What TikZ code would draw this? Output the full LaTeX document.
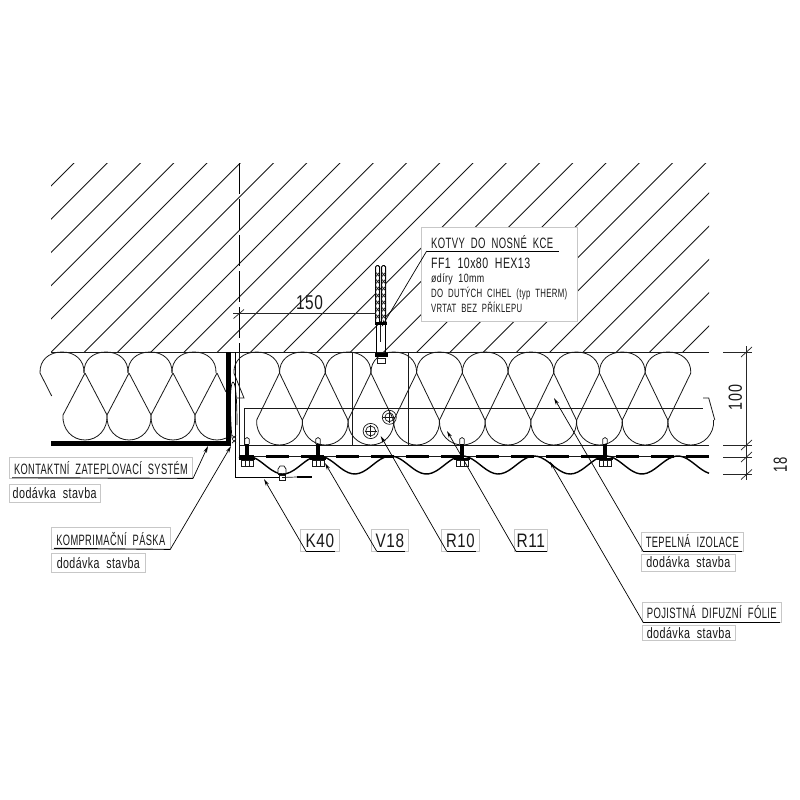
\documentclass[tikz,border=0pt]{standalone}
\usepackage{graphicx}
\usepackage{fontspec}
\setmainfont{Liberation Sans}[WordSpace=2,LetterSpace=4]
\usetikzlibrary{arrows.meta}
\newcommand{\cadfit}[3]{\raisebox{-0.36\dimexpr#2pt\relax}[0pt][0pt]{\resizebox{#1pt}{\height}{\fontsize{#2}{#2}\selectfont #3}}}
\newcommand{\toplobe}[2]{\draw[batt] (#1-#2,373) .. controls (#1-#2-0.5,360) and (#1-13,352) .. (#1,352) .. controls (#1+13,352) and (#1+#2+0.5,360) .. (#1+#2,373);}
\newcommand{\botlobe}[3]{\draw[batt] (#1-#2,#3-25) .. controls (#1-#2-1,#3-11) and (#1-13,#3) .. (#1,#3) .. controls (#1+13,#3) and (#1+#2+1,#3-11) .. (#1+#2,#3-25);}
\newcommand{\boltfix}[1]{%
  \fill[black] (#1-2.2,444) rectangle (#1+2.2,458);
  \draw[thin line] (#1-2.2,444) -- (#1-2.2,439) -- (#1,437.5) -- (#1+2.2,439) -- (#1+2.2,444);
  \fill[black] (#1-8,457.5) rectangle (#1+8,460);
  \draw[thin line,fill=white] (#1-6,460.5) rectangle (#1+6,466);
  \draw[thin line] (#1-2,460.5) -- (#1-2,466) (#1+2,460.5) -- (#1+2,466);
}
\tikzset{
  x=1pt,y=-1pt,
  thin line/.style={line width=0.7pt,draw=black!90},
  batt/.style={line width=0.8pt,draw=black!90},
  hatch/.style={line width=0.75pt,draw=black!90},
  dimline/.style={line width=0.7pt,draw=black!85},
  labelbox/.style={draw=black!22,line width=0.7pt,fill=white,inner sep=0pt,text=black!90},
  plain text/.style={inner sep=0pt,text=black!90},
  underline/.style={line width=0.9pt,draw=black},
  leader/.style={line width=0.7pt,draw=black,-{Stealth[length=7pt,width=3.6pt]}},
}
\begin{document}
\begin{tikzpicture}
\useasboundingbox (0,0) rectangle (800,800);
\fill[white] (0,0) rectangle (800,800);
% masonry hatch
\begin{scope}
  \clip (51,163) rectangle (709,352);
  \foreach \k in {0,...,24} {
    \pgfmathsetmacro{\sumv}{237+33.25*\k}
    \draw[hatch] (\sumv-400,400) -- (\sumv-100,100);
  }
\end{scope}
\draw[thin line] (51,352) -- (709,352);
% left insulation
\begin{scope}
  \clip (30,345) rectangle (226,443);
  \foreach \cc in {62,106,150,194} {\toplobe{\cc}{22}}
  \foreach \cc in {85,129,173,217} {\botlobe{\cc}{22}{440}}
  \draw[batt] (85,373) -- (63,415) (85,373) -- (107,415)
              (129,373) -- (107,415) (129,373) -- (151,415)
              (173,373) -- (151,415) (173,373) -- (195,415)
              (217,373) -- (195,415) (217,373) -- (226,392)
              (40,373) -- (51.7,396);
\end{scope}
\fill[black] (51,440.5) rectangle (231,445.5);
\fill[black] (225.7,352) rectangle (231,445.5);
% right insulation
\foreach \k in {0,...,9} {
  \pgfmathsetmacro{\cc}{256.7+45.7*\k}
  \pgfmathsetmacro{\bb}{279.5+45.7*\k}
  \pgfmathsetmacro{\rr}{302.2+45.7*\k}
  \toplobe{\cc}{22.8}
  \botlobe{\bb}{22.8}{445}
  \draw[batt] (\bb,373) -- (\cc,420);
  \ifnum\k<9 \draw[batt] (\bb,373) -- (\rr,420); \fi
}
\draw[batt] (237,398) -- (244,398) -- (233.9,373);
\draw[batt] (714.8,420) -- (708.7,398) -- (703,398);
% profile lines
\draw[thin line] (709,445) -- (239,445);
\draw[thin line] (244,445) -- (244,408) -- (703,408);
\draw[thin line] (352,352) -- (352,445);
\draw[thin line] (408.7,352) -- (408.7,445);
% edge flashing
\draw[thin line,line width=1pt] (239,352) -- (239,456) -- (247,456);
\draw[line width=1pt,draw=black] (235.5,352) -- (235.5,477.5) -- (280,477.5);
\draw[line width=2pt,draw=black] (297,477) -- (312,477);
\draw[thin line] (282,477.5) -- (297,477);
\draw[line width=0.7pt,draw=black] (232,438) .. controls (229.5,410) and (230,382) .. (233,382) .. controls (236.5,382) and (237,410) .. (237,425);
\draw[thin line] (232,435) -- (236,439) (236,435) -- (232,439) (232,439) -- (236,443) (236,439) -- (232,443);
% foil and sheet
\draw[thin line] (239,456.5) -- (709,456.5);
\draw[line width=2.1pt,draw=black,dash pattern=on 23pt off 12pt] (709,456.5) -- (239,456.5);
\draw[line width=1.4pt,draw=black] plot[domain=239:709,samples=130,smooth] (\x,{465-9*cos(5.0139*(\x-247))});
% fasteners on the sheet
\boltfix{247}\boltfix{318}\boltfix{462}\boltfix{605}
\draw[thin line,fill=white] (278,473) -- (278,469) -- (280,466) -- (284,466) -- (286,469) -- (286,473);
\draw[line width=1pt,draw=black] (278,474) -- (286,474);
\draw[thin line] (279,475) rectangle (285,480);
% centre line
\draw[line width=0.8pt,draw=black,dash pattern=on 31pt off 5pt] (239.3,163) -- (239.3,352);
% fixing circles
\foreach \px/\py/\ra in {370.7/431/7.6,389.3/417.3/7} {
  \draw[thin line] (\px,\py) circle[radius=\ra pt];
  \draw[thin line] (\px,\py) circle[radius=\ra pt-2.6pt];
  \draw[thin line] (\px-6,\py) -- (\px+6,\py) (\px,\py-6) -- (\px,\py+6);
}
% anchor
\begin{scope}
\draw[line width=1pt,draw=black,fill=white,rounded corners=1.5pt] (375.5,322) -- (375.5,265.5) -- (379.7,265.5) -- (379.7,322);
\draw[line width=1pt,draw=black,fill=white,rounded corners=1.5pt] (381.5,322) -- (381.5,265.5) -- (385.7,265.5) -- (385.7,322);
\foreach \yy in {272,279,...,314} {
  \draw[thin line] (375.5,\yy) -- (379.7,\yy+5) (379.7,\yy) -- (375.5,\yy+5);
  \draw[thin line] (381.5,\yy) -- (385.7,\yy+5) (385.7,\yy) -- (381.5,\yy+5);
}
\fill[black] (375,322) rectangle (386.5,325);
\draw[line width=0.9pt,draw=black] (376,325) -- (376,353) (385.7,325) -- (385.7,353);
\draw[thin line] (380,325) -- (380,342);
\fill[black] (374.5,353) rectangle (387.5,357);
\draw[thin line,fill=white] (377,358) rectangle (385,363);
\end{scope}
% 150 dimension
\coordinate (dimA) at (233,313.7);
\coordinate (dimB) at (376,313.7);
\draw[dimline] (dimA) -- (dimB);
\draw[dimline] (233.5,318.5) -- (244,309.5);
\node[plain text] (dimT) at (309.5,302) {\cadfit{27}{20}{150}};
% right dimensions
\coordinate (c1) at (746.7,346);
\coordinate (c2) at (746.7,480);
\draw[dimline] (c1) -- (c2);
\foreach \yy in {352,445,457,474.5} {
  \draw[dimline] (723,\yy) -- (752,\yy);
  \draw[dimline] (741,\yy+5) -- (752,\yy-5);
}
\node[plain text,rotate=90] (dimH) at (735,397.5) {\cadfit{25}{19}{100}};
\node[plain text,rotate=90] (dimS) at (780,465) {\cadfit{15}{19}{18}};
% callouts
\node[labelbox,minimum width=155.3pt,minimum height=94pt] (kotvy) at (499.3,274) {};
\node[plain text,anchor=west] (k1) at (431,243) {\cadfit{122}{15}{KOTVY DO NOSNÉ KCE}};
\node[plain text,anchor=west] (k2) at (431,263) {\cadfit{99}{15}{FF1 10x80 HEX13}};
\node[plain text,anchor=west] (k3) at (431,278) {\cadfit{53}{12}{ødíry 10mm}};
\node[plain text,anchor=west] (k4) at (431,292.7) {\cadfit{136}{12}{DO DUTÝCH CIHEL (typ THERM)}};
\node[plain text,anchor=west] (k5) at (431,307.7) {\cadfit{91}{12}{VRTAT BEZ PŘÍKLEPU}};
\coordinate (kotvyA) at (426.7,251);
\coordinate (kotvyB) at (559,251);
\coordinate (kotvyTip) at (381.7,326.7);
\draw[underline] (kotvyA) -- (kotvyB);
\draw[leader] (kotvyA) -- (kotvyTip);

\node[labelbox,minimum width=183.4pt,minimum height=21pt] (kont) at (101,467.5) {\raisebox{-1.5pt}[0pt][0pt]{\cadfit{174}{15}{KONTAKTNÍ ZATEPLOVACÍ SYSTÉM}}};
\node[labelbox,minimum width=90.7pt,minimum height=18pt] (kontd) at (54.7,493) {\cadfit{84}{15}{dodávka stavba}};
\coordinate (kontTip) at (208,446);
\coordinate (kontL) at (12,477.7);
\draw[underline] (kontL) -- (kont.south east);
\draw[leader] (kont.south east) -- (kontTip);

\node[labelbox,minimum width=118.3pt,minimum height=22pt] (komp) at (110.8,538) {\raisebox{-2pt}[0pt][0pt]{\cadfit{109}{15}{KOMPRIMAČNÍ PÁSKA}}};
\node[labelbox,minimum width=93.3pt,minimum height=19.7pt] (kompd) at (98.3,562.8) {\cadfit{83}{15}{dodávka stavba}};
\coordinate (kompTip) at (231,446);
\coordinate (kompL) at (54,548.3);
\draw[underline] (kompL) -- (komp.south east);
\draw[leader] (komp.south east) -- (kompTip);

\foreach \nm/\cx/\boxw/\txt/\tipx/\tipy/\ua/\ub in {
  k40/319.8/38.3/K40/264/479/306/335,
  v18/389.8/36.3/V18/325/463/376.7/405,
  r10/460.3/37.3/R10/380.7/436/446.7/476,
  r11/530.8/33.7/R11/447/431/516/547} {
  \node[labelbox,minimum width=\boxw pt,minimum height=22.7pt] (\nm) at (\cx,540.3) {\cadfit{28.5}{19.5}{\txt}};
  \coordinate (\nm A) at (\ua,551.2);
  \coordinate (\nm B) at (\ub,551.2);
  \coordinate (\nm T) at (\tipx,\tipy);
  \draw[underline] (\nm A) -- (\nm B);
  \draw[leader] (\nm A) -- (\nm T);
}

\node[labelbox,minimum width=101.3pt,minimum height=19.7pt] (tep) at (692.3,541.8) {\cadfit{93}{15}{TEPELNÁ IZOLACE}};
\node[labelbox,minimum width=93.3pt,minimum height=17pt] (tepd) at (688.3,562.5) {\cadfit{84}{15}{dodávka stavba}};
\coordinate (tepA) at (643,551);
\coordinate (tepB) at (742,551);
\coordinate (tepTip) at (554,398);
\draw[underline] (tepA) -- (tepB);
\draw[leader] (tepA) -- (tepTip);

\node[labelbox,minimum width=138.3pt,minimum height=20pt] (poj) at (711.8,612.7) {\cadfit{130}{15}{POJISTNÁ DIFUZNÍ FÓLIE}};
\node[labelbox,minimum width=92.3pt,minimum height=15.7pt] (pojd) at (688.8,632.8) {\cadfit{84}{15}{dodávka stavba}};
\coordinate (pojA) at (643,622);
\coordinate (pojB) at (780,622);
\coordinate (pojTip) at (550,461.7);
\draw[underline] (pojA) -- (pojB);
\draw[leader] (pojA) -- (pojTip);
\end{tikzpicture}
\end{document}
